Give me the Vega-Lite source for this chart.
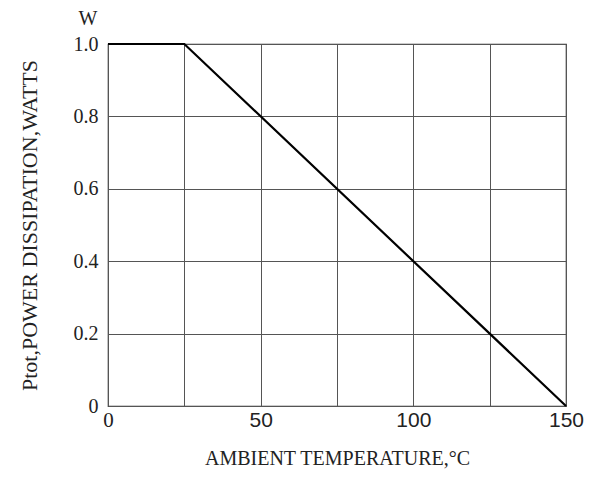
{
  "$schema": "https://vega.github.io/schema/vega-lite/v6.json",
  "autosize": {"type": "none"},
  "width": 458,
  "height": 362,
  "padding": {"left": 108, "top": 44, "right": 34, "bottom": 71},
  "background": "white",
  "config": {
    "view": {"stroke": "#333333", "strokeWidth": 1.2},
    "axis": {"gridColor": "#555555", "gridWidth": 1, "gridOpacity": 1, "domain": false, "ticks": false}
  },
  "layer": [
    {
      "data": {"values": [
        {"temp": 0, "power": 1.0},
        {"temp": 25, "power": 1.0},
        {"temp": 150, "power": 0.0}
      ]},
      "mark": {"type": "line", "color": "black", "strokeWidth": 2.2},
      "encoding": {
        "x": {
          "field": "temp", "type": "quantitative",
          "scale": {"domain": [0, 150], "nice": false},
          "axis": {
            "values": [0, 25, 50, 75, 100, 125, 150],
            "labelExpr": "datum.value % 50 == 0 ? datum.label : ''",
            "labelFont": {"condition": {"test": "datum.value == 0", "value": "Liberation Serif"}, "value": "Liberation Sans"},
            "labelFontSize": 21, "labelColor": "#222222",
            "labelPadding": 3, "labelFlush": false,
            "title": "AMBIENT TEMPERATURE,°C",
            "titleFont": "Liberation Serif", "titleFontSize": 20, "titleFontWeight": "normal",
            "titleColor": "#222222", "titlePadding": 18
          }
        },
        "y": {
          "field": "power", "type": "quantitative",
          "scale": {"domain": [0, 1], "nice": false},
          "axis": {
            "values": [0, 0.2, 0.4, 0.6, 0.8, 1.0],
            "labelExpr": "datum.value == 0 ? '0' : format(datum.value, '.1f')",
            "labelFont": "Liberation Serif", "labelFontSize": 20, "labelColor": "#222222",
            "labelPadding": 10, "labelFlush": false,
            "title": "Ptot,POWER DISSIPATION,WATTS",
            "titleFont": "Liberation Serif", "titleFontSize": 22, "titleFontWeight": "normal",
            "titleColor": "#222222", "titlePadding": 32
          }
        }
      }
    },
    {
      "data": {"values": [{"temp": 0, "power": 1.0, "unit": "W"}]},
      "mark": {"type": "text", "font": "Liberation Serif", "fontSize": 20, "color": "#222222", "dx": -20, "dy": -25},
      "encoding": {
        "x": {"field": "temp", "type": "quantitative"},
        "y": {"field": "power", "type": "quantitative"},
        "text": {"field": "unit"}
      }
    }
  ]
}
